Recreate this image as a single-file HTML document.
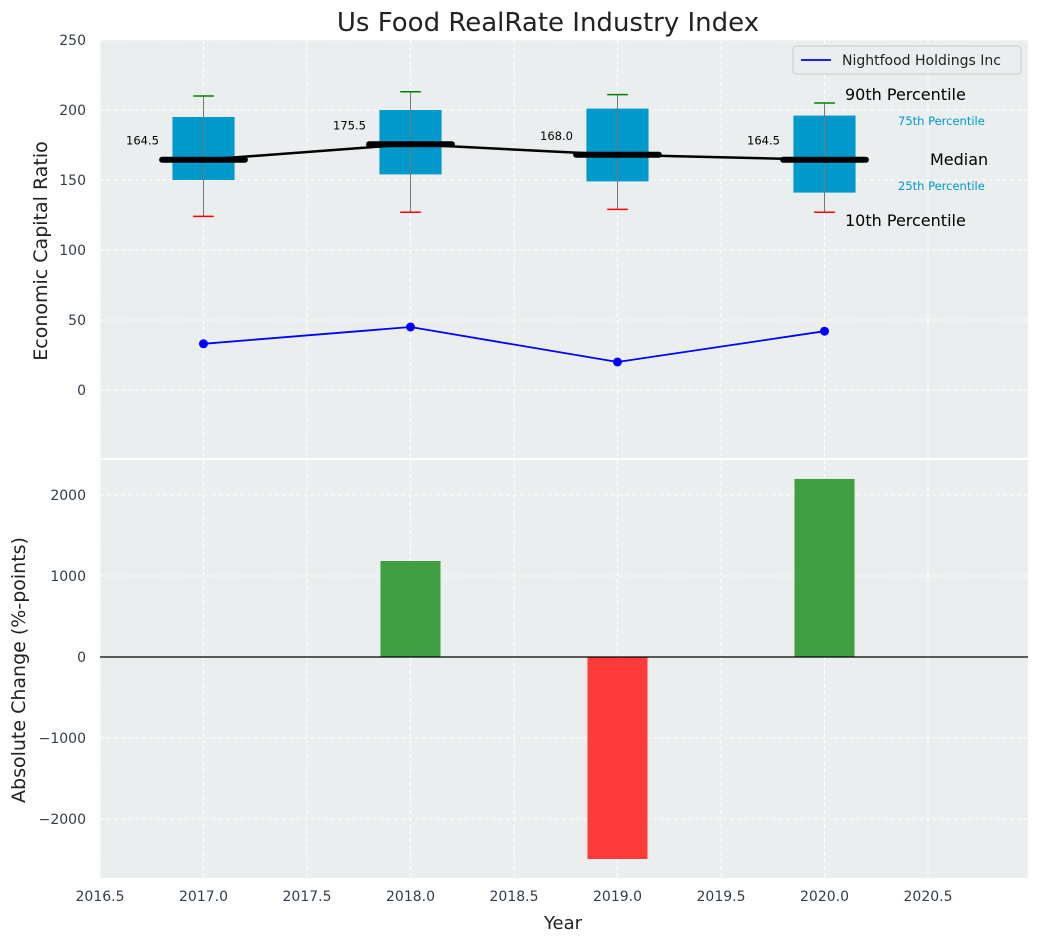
<!DOCTYPE html>
<html><head><meta charset="utf-8"><style>
body{margin:0;background:#fff;font-family:"Liberation Sans","DejaVu Sans",sans-serif}
text{font-family:"DejaVu Sans","Liberation Sans",sans-serif}
</style></head><body>
<svg id="c" width="1039" height="942" xmlns="http://www.w3.org/2000/svg"></svg>
<script>
const years=[2017,2018,2019,2020];
const p10=[124,127,129,127];
const q1=[150,154,149,141];
const medians=[164.5,175.5,168.0,164.5];
const q3=[195,200,201,196];
const p90=[210,213,211,205];
const company=[33,45,20,42];
const changes=[0,1185,-2494,2198];
const xTicks=[2016.5,2017.0,2017.5,2018.0,2018.5,2019.0,2019.5,2020.0,2020.5];
const yTopTicks=[0,50,100,150,200,250];
const yBotTicks=[-2000,-1000,0,1000,2000];

const svg=document.getElementById('c');const NS='http://www.w3.org/2000/svg';
function el(t,a,txt){const e=document.createElementNS(NS,t);for(const k in a)e.setAttribute(k,a[k]);if(txt!==undefined)e.textContent=txt;svg.appendChild(e);return e;}
const L=100,R=1028;
const X=v=>L+(v-2016.5)*207;
const T0=40,T1=458,B0=460,B1=878;
const YT=v=>390-v*1.4;
const YB=v=>657-v*0.081;
let e;
e=el('rect',{x:L,y:T0,width:R-L,height:T1-T0,fill:'#eaeeee'});

e=el('rect',{x:L,y:B0,width:R-L,height:B1-B0,fill:'#eaeeee'});

xTicks.forEach(t=>{[[T0,T1],[B0,B1]].forEach(([a,b])=>{e=el('line',{x1:X(t),x2:X(t),y1:a,y2:b,stroke:'#fff','stroke-dasharray':'4,3','stroke-width':1});});
 e=el('text',{x:X(t),y:901,'text-anchor':'middle','font-size':14,fill:'#333d4d'},t.toFixed(1));});
yTopTicks.forEach(t=>{e=el('line',{x1:L,x2:R,y1:YT(t),y2:YT(t),stroke:'#fff','stroke-dasharray':'4,3'});
 e=el('text',{x:86,y:YT(t)+5,'text-anchor':'end','font-size':14,fill:'#333d4d'},t);});
yBotTicks.forEach(t=>{e=el('line',{x1:L,x2:R,y1:YB(t),y2:YB(t),stroke:'#fff','stroke-dasharray':'4,3'});
 e=el('text',{x:86,y:YB(t)+5,'text-anchor':'end','font-size':14,fill:'#333d4d'},t<0?'\u2212'+(-t):t);});
const bw=0.15*207, mw=0.2*207, cw=0.05*207;
years.forEach((y,i)=>{const x=X(y);
 e=el('rect',{x:x-bw,y:YT(q3[i]),width:2*bw,height:YT(q1[i])-YT(q3[i]),fill:'#0099cc'});
 e=el('line',{x1:x,x2:x,y1:YT(p90[i]),y2:YT(p10[i]),stroke:'#777','stroke-width':1});
 e=el('line',{x1:x-cw,x2:x+cw,y1:YT(p90[i]),y2:YT(p90[i]),stroke:'green','stroke-width':1.5});
 e=el('line',{x1:x-cw,x2:x+cw,y1:YT(p10[i]),y2:YT(p10[i]),stroke:'red','stroke-width':1.5});
 e=el('line',{x1:x-mw,x2:x+mw,y1:YT(medians[i]),y2:YT(medians[i]),stroke:'#000','stroke-width':6,'stroke-linecap':'round'});
 e=el('text',{x:x-61,y:YT(medians[i])-15,'text-anchor':'middle','font-size':11.5,fill:'#000'},medians[i].toFixed(1));
});
e=el('polyline',{points:years.map((y,i)=>X(y)+','+YT(medians[i])).join(' '),fill:'none',stroke:'#000','stroke-width':2.5});
e=el('polyline',{points:years.map((y,i)=>X(y)+','+YT(company[i])).join(' '),fill:'none',stroke:'blue','stroke-width':1.8});
years.forEach((y,i)=>{e=el('circle',{cx:X(y),cy:YT(company[i]),r:4.5,fill:'blue'});});
const ann=[[845,100,'90th Percentile',16,'#000'],[898,125,'75th Percentile',11.5,'#0099cc'],[930,165,'Median',16,'#000'],[898,190,'25th Percentile',11.5,'#0099cc'],[845,226,'10th Percentile',16,'#000']];
ann.forEach(a=>{e=el('text',{x:a[0],y:a[1],'font-size':a[3],fill:a[4]},a[2]);});
e=el('rect',{x:793,y:46,width:228,height:28,rx:3,fill:'#eaeeee',stroke:'#ccc'});
e=el('line',{x1:801,x2:831,y1:60,y2:60,stroke:'blue','stroke-width':1.8});
e=el('text',{x:842,y:65,'font-size':14,fill:'#222'},'Nightfood Holdings Inc');
const barw=0.145*207;
years.forEach((y,i)=>{const v=changes[i];if(v===0)return;const y0=YB(Math.max(v,0)),y1=YB(Math.min(v,0));
 e=el('rect',{x:X(y)-barw,y:y0,width:2*barw,height:y1-y0,fill:v>0?'#2e9530':'#ff2222','fill-opacity':v>0?0.9:0.88});});
e=el('line',{x1:L,x2:R,y1:YB(0),y2:YB(0),stroke:'#000','stroke-width':1.2});
e=el('text',{x:548,y:31,'text-anchor':'middle','font-size':26,fill:'#222'},'Us Food RealRate Industry Index');
e=el('text',{x:563,y:929,'text-anchor':'middle','font-size':18,fill:'#222'},'Year');
e=el('text',{x:0,y:0,'text-anchor':'middle','font-size':19,fill:'#222',transform:'translate(47,251) rotate(-90)'},'Economic Capital Ratio');
e=el('text',{x:0,y:0,'text-anchor':'middle','font-size':19,fill:'#222',transform:'translate(25,670) rotate(-90)'},'Absolute Change (%-points)');
</script>
</body></html>
